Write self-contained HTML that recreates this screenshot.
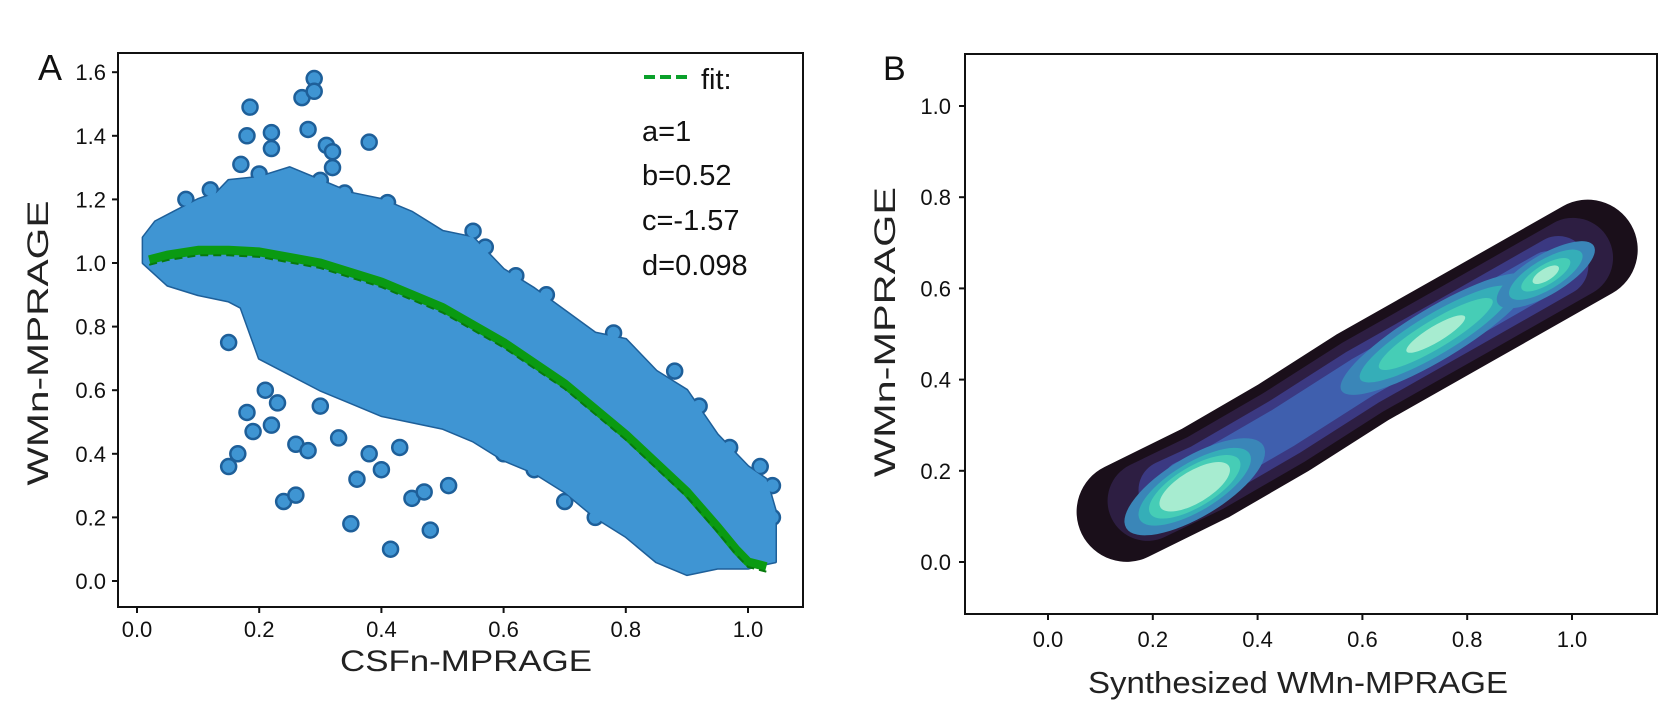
<!DOCTYPE html>
<html><head><meta charset="utf-8"><style>
html,body{margin:0;padding:0;background:#fff;}
svg{display:block;font-family:"Liberation Sans",sans-serif;}
</style></head><body>
<svg id="fig" width="1676" height="728" viewBox="0 0 1676 728">
<g id="panelA"></g>
<g id="panelB"></g>
</svg>
<script>
// ---------- Panel A data ----------
const aTicksX = [0.0, 0.2, 0.4, 0.6, 0.8, 1.0];
const aTicksY = [0.0, 0.2, 0.4, 0.6, 0.8, 1.0, 1.2, 1.4, 1.6];
const bandUpperX = [0.01,0.03,0.06,0.1,0.13,0.15,0.2,0.25,0.3,0.35,0.4,0.45,0.5,0.55,0.6,0.65,0.7,0.75,0.8,0.85,0.9,0.95,1.0,1.03,1.045];
const bandUpperY = [1.08,1.13,1.16,1.2,1.22,1.26,1.27,1.3,1.26,1.22,1.2,1.16,1.1,1.08,0.98,0.92,0.85,0.78,0.76,0.66,0.6,0.46,0.36,0.32,0.22];
const bandLowerX = [1.045,1.02,1.0,0.95,0.9,0.85,0.8,0.75,0.7,0.65,0.6,0.55,0.5,0.45,0.4,0.35,0.3,0.25,0.2,0.17,0.15,0.1,0.05,0.01];
const bandLowerY = [0.06,0.05,0.04,0.04,0.02,0.06,0.14,0.2,0.28,0.34,0.38,0.44,0.48,0.5,0.52,0.56,0.6,0.65,0.7,0.86,0.88,0.9,0.93,1.0];
const outX = [0.15,0.165,0.18,0.19,0.22,0.24,0.26,0.26,0.28,0.35,0.36,0.415,0.45,0.48,0.47,0.51,0.15,0.185,0.18,0.22,0.22,0.27,0.29,0.29,0.28,0.31,0.32,0.38,0.32,0.57,0.62,1.04,1.04,1.02,0.23,0.21,0.3,0.33,0.38,0.4,0.43,0.6,0.65,0.7,0.75,0.2,0.17,0.3,0.34,0.41,0.55,0.67,0.78,0.88,0.92,0.97,1.01,0.08,0.12];
const outY = [0.36,0.40,0.53,0.47,0.49,0.25,0.27,0.43,0.41,0.18,0.32,0.10,0.26,0.16,0.28,0.30,0.75,1.49,1.40,1.41,1.36,1.52,1.58,1.54,1.42,1.37,1.35,1.38,1.30,1.05,0.96,0.30,0.20,0.36,0.56,0.60,0.55,0.45,0.40,0.35,0.42,0.40,0.35,0.25,0.20,1.28,1.31,1.26,1.22,1.19,1.1,0.9,0.78,0.66,0.55,0.42,0.3,1.2,1.23];
const fitX = [0.02,0.05,0.1,0.15,0.2,0.3,0.4,0.5,0.6,0.7,0.8,0.9,0.95,0.98,1.0,1.03];
const fitY = [1.01,1.025,1.04,1.04,1.035,1.0,0.94,0.86,0.75,0.62,0.46,0.28,0.17,0.10,0.06,0.045];
const fitParams = ["a=1","b=0.52","c=-1.57","d=0.098"];
// ---------- Panel B data ----------
const bTicksX = [0.0, 0.2, 0.4, 0.6, 0.8, 1.0];
const bTicksY = [0.0, 0.2, 0.4, 0.6, 0.8, 1.0];
const ridgeX = [0.15,0.3,0.45,0.6,0.8,1.03];
const ridgeY = [0.11,0.195,0.295,0.405,0.535,0.685];
const levelColors = ["#1a0f1a","#2d1e42","#3b3982","#3f5fae"];
const levelWidths = [100,80,60,42];
const levelStart = [0,0.04,0.08,0.11];
const peakX = [0.28,0.74,0.95];
const peakY = [0.165,0.5,0.63];
const blobColors = ["#3a86b8","#35aeb8","#46cdb6","#a7ecd0"];

const NS="http://www.w3.org/2000/svg";
function mk(tag,attrs,parent){const e=document.createElementNS(NS,tag);for(const k in attrs)e.setAttribute(k,attrs[k]);parent.appendChild(e);return e;}
const fmt=v=>v.toFixed(1);

// ---------- Panel A ----------
const A=document.getElementById('panelA');
const ax=v=>137+v*611, ay=v=>581-v*318;
let t=mk('text',{x:38,y:80,'font-size':36,fill:'#111'},A);t.textContent='A';

let pts=[];
bandUpperX.forEach((x,i)=>pts.push(ax(x)+','+ay(bandUpperY[i])));
bandLowerX.forEach((x,i)=>pts.push(ax(x)+','+ay(bandLowerY[i])));
let band=mk('polygon',{points:pts.join(' '),fill:'#3f95d3',stroke:'#1e5f99','stroke-width':3,'stroke-linejoin':'round'},A);


outX.forEach((x,i)=>{
  const c=mk('circle',{cx:ax(x),cy:ay(outY[i]),r:7.5,fill:'#3f95d3',stroke:'#1e5f99','stroke-width':2.5},A);
  
  
});
let band2=mk('polygon',{points:pts.join(' '),fill:'#3f95d3'},A);


let fp=fitX.map((x,i)=>ax(x)+','+ay(fitY[i])).join(' ');
let fl=mk('polyline',{points:fp,fill:'none',stroke:'#0a9a12','stroke-width':9,'stroke-linejoin':'round'},A);


let fl2=mk('polyline',{points:fp,fill:'none',stroke:'#077a0c','stroke-width':2,'stroke-dasharray':'8 5',transform:'translate(0,5)'},A);


let bx=mk('rect',{x:118,y:53,width:685,height:554,fill:'none',stroke:'#111','stroke-width':2},A);

aTicksY.forEach(v=>{
  const l=mk('line',{x1:112,x2:118,y1:ay(v),y2:ay(v),stroke:'#111','stroke-width':2},A);
  
  const s=mk('text',{x:106,y:ay(v)+8,'font-size':22,'text-anchor':'end',fill:'#111'},A);s.textContent=fmt(v);
  
});
aTicksX.forEach(v=>{
  const l=mk('line',{x1:ax(v),x2:ax(v),y1:607,y2:613,stroke:'#111','stroke-width':2},A);
  
  const s=mk('text',{x:ax(v),y:637,'font-size':22,'text-anchor':'middle',fill:'#111'},A);s.textContent=fmt(v);
  
});
t=mk('text',{x:340,y:671,'font-size':30,fill:'#222',textLength:252,lengthAdjust:'spacingAndGlyphs'},A);t.textContent='CSFn-MPRAGE';

t=mk('text',{x:0,y:0,'font-size':30,'text-anchor':'middle',fill:'#222',textLength:285,lengthAdjust:'spacingAndGlyphs',transform:'translate(48,343) rotate(-90)'},A);t.textContent='WMn-MPRAGE';

let lg=mk('line',{x1:644,x2:692,y1:77,y2:77,stroke:'#0aa02a','stroke-width':4,'stroke-dasharray':'11 5'},A);

t=mk('text',{x:701,y:89,'font-size':29,fill:'#111'},A);t.textContent='fit:';

const pb=[141,185,230,275];
fitParams.forEach((p,i)=>{
  const s=mk('text',{x:642,y:pb[i],'font-size':29,fill:'#111'},A);s.textContent=p;
  
});

// ---------- Panel B ----------
const B=document.getElementById('panelB');
const bx_=v=>1048+v*524, by_=v=>562-v*456;
t=mk('text',{x:883,y:80,'font-size':34,fill:'#111'},B);t.textContent='B';

levelColors.forEach((c,k)=>{
  const n=ridgeX.length;
  const s0=levelStart[k];
  const p=ridgeX.map((x,i)=>{
    let xx=x, yy=ridgeY[i];
    if(i===0){xx=x+s0;yy=ridgeY[0]+s0*0.6;}
    if(i===n-1){xx=x-s0*0.7;yy=ridgeY[n-1]-s0*0.45;}
    return bx_(xx)+','+by_(yy);
  }).join(' ');
  const pl=mk('polyline',{points:p,fill:'none',stroke:c,'stroke-width':levelWidths[k],'stroke-linecap':'round','stroke-linejoin':'round'},B);
  
  
});
const blobSizes=[[[80,30],[64,24],[52,20],[40,16]],[[110,26],[88,20],[66,14],[34,8]],[[56,20],[42,15],[28,10],[15,6]]];
peakX.forEach((x,i)=>{
  blobColors.forEach((c,k)=>{
    const [rx,ry]=blobSizes[i][k];
    const e=mk('ellipse',{cx:bx_(x),cy:by_(peakY[i]),rx:rx,ry:ry,fill:c,transform:`rotate(-31 ${bx_(x)} ${by_(peakY[i])})`},B);
    
    
  });
});
let bb=mk('rect',{x:965,y:54,width:692,height:560,fill:'none',stroke:'#111','stroke-width':2},B);

bTicksY.forEach(v=>{
  const l=mk('line',{x1:959,x2:965,y1:by_(v),y2:by_(v),stroke:'#111','stroke-width':2},B);
  
  const s=mk('text',{x:951,y:by_(v)+8,'font-size':22,'text-anchor':'end',fill:'#111'},B);s.textContent=fmt(v);
  
});
bTicksX.forEach(v=>{
  const l=mk('line',{x1:bx_(v),x2:bx_(v),y1:614,y2:620,stroke:'#111','stroke-width':2},B);
  
  const s=mk('text',{x:bx_(v),y:647,'font-size':22,'text-anchor':'middle',fill:'#111'},B);s.textContent=fmt(v);
  
});
t=mk('text',{x:1088,y:693,'font-size':31,fill:'#222',textLength:420,lengthAdjust:'spacingAndGlyphs'},B);t.textContent='Synthesized WMn-MPRAGE';

t=mk('text',{x:0,y:0,'font-size':30,'text-anchor':'middle',fill:'#222',textLength:290,lengthAdjust:'spacingAndGlyphs',transform:'translate(895,332) rotate(-90)'},B);t.textContent='WMn-MPRAGE';

</script>
</body></html>
